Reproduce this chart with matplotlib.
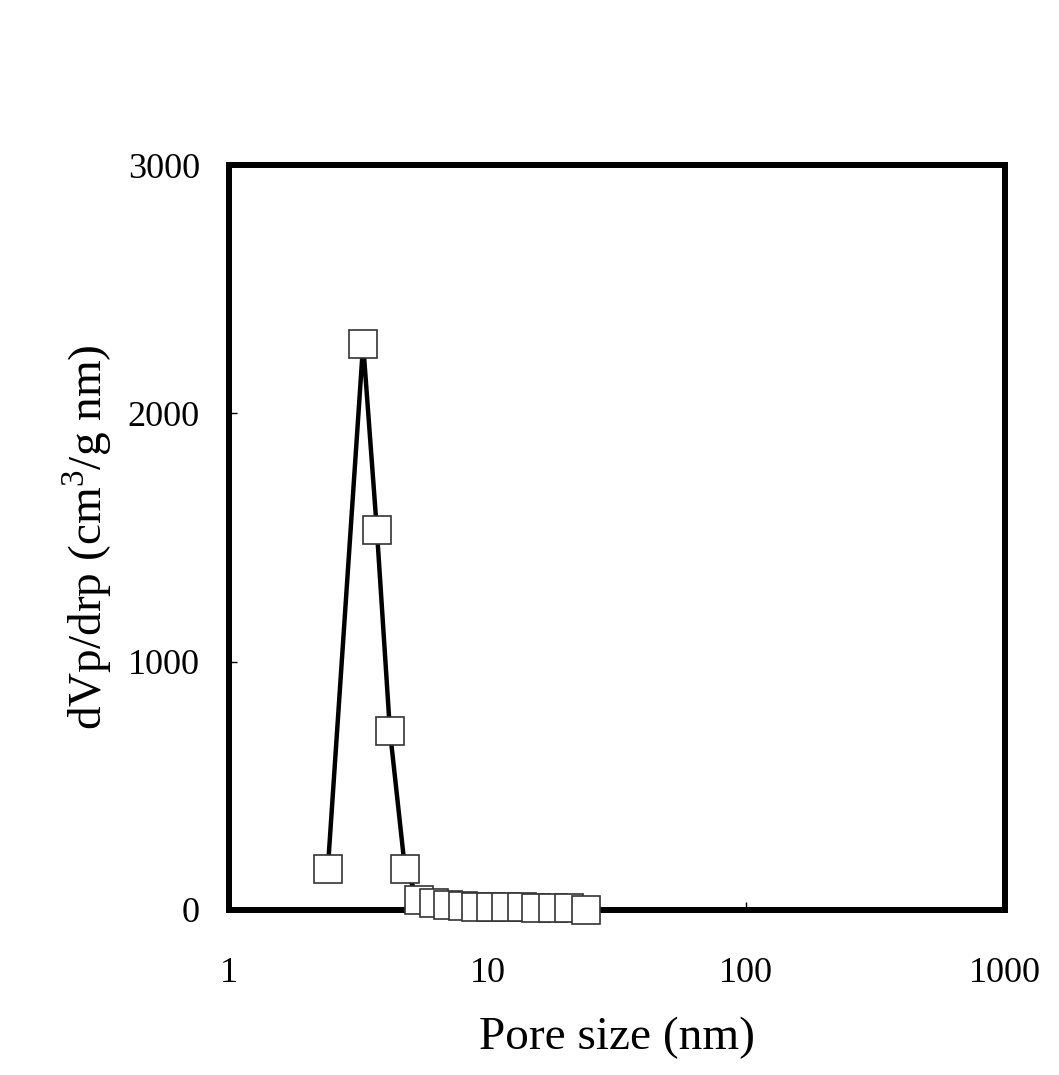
import matplotlib
matplotlib.use("Agg")
import matplotlib.pyplot as plt

pore_size = [2.41, 3.30, 3.73, 4.19, 4.79, 5.45, 6.19, 7.04, 8.04, 9.03,
             10.3, 11.8, 13.6, 15.4, 17.9, 20.6, 23.9]
dvp_drp = [165, 2279, 1530, 721, 165, 40, 28, 20, 15, 11,
           11, 11, 11, 7, 7, 7, 1]
x_ticks = [1, 10, 100, 1000]
x_tick_labels = ["1", "10", "100", "1000"]
y_ticks = [0, 1000, 2000, 3000]
y_tick_labels = ["0", "1000", "2000", "3000"]

plt.rcParams['font.family'] = ['Liberation Serif', 'DejaVu Serif']
plt.rcParams['mathtext.fontset'] = 'custom'
plt.rcParams['mathtext.rm'] = 'Liberation Serif'

fig = plt.figure(figsize=(10.59, 10.75), dpi=100)
ax = fig.add_axes([229/1059, 1 - 910/1075, (1005-229)/1059, (910-165)/1075])

ax.plot(pore_size, dvp_drp, color='black', linewidth=3.2, marker='s',
        markersize=20, markerfacecolor='white', markeredgecolor='#333333',
        markeredgewidth=1.2, clip_on=False, zorder=3)

ax.set_xscale('log')
ax.set_xlim(1, 1000)
ax.set_ylim(0, 3000)
ax.set_xticks(x_ticks)
ax.set_xticklabels(x_tick_labels)
ax.set_yticks(y_ticks)
ax.set_yticklabels(y_tick_labels)
ax.minorticks_off()
ax.tick_params(direction='in', length=6, width=1, labelsize=26)
ax.tick_params(axis='x', pad=34)
ax.tick_params(axis='y', pad=21)

for s in ax.spines.values():
    s.set_linewidth(4.3)
    s.set_color('black')

ax.set_xlabel('Pore size (nm)', fontsize=34, labelpad=19)
ax.set_ylabel(r'dVp/drp (cm$^{3}$/g nm)', fontsize=34, labelpad=10)

fig.savefig('out.png', dpi=100, facecolor='white')
